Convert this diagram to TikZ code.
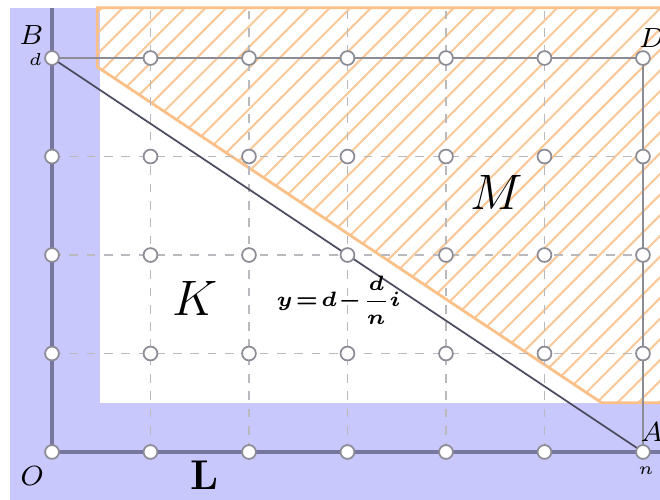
\documentclass[tikz,border=0pt]{standalone}
\usepackage{amsmath}
\usepackage{tikz}
\usepackage{xcolor}
\usetikzlibrary{positioning, calc}
\definecolor{region}{RGB}{200, 200, 252}
\definecolor{hatch}{RGB}{250, 192, 135}
\definecolor{axisc}{RGB}{118, 118, 158}
\definecolor{framec}{RGB}{140, 140, 150}
\definecolor{gridc}{RGB}{185, 185, 190}
\definecolor{linec}{RGB}{75, 75, 95}
\tikzset{
    pt/.style={circle, draw=framec, fill=white, line width=0.5pt, minimum size=4pt, inner sep=0pt},
    gridline/.style={gridc, line width=0.4pt, dash pattern=on 2.5pt off 2.5pt},
    axisline/.style={axisc, line width=0.9pt},
    frameline/.style={framec, line width=0.6pt},
    hatchline/.style={hatch!85, line width=0.6pt},
    lbl/.style={font=\scriptsize, inner sep=1pt},
    big/.style={font=\Large},
    eqn/.style={font=\fontsize{6}{7}\selectfont\boldmath}
}

\begin{document}
\begin{tikzpicture}
        \useasboundingbox (-0.528,-0.487) rectangle (6.173,4.589);
        \clip (-0.528,-0.487) rectangle (6.173,4.589);

        % regions
        \fill[region] (-0.43,-0.7) rectangle (6.6,4.51);
        \fill[white] (0.49,0.5) rectangle (6.6,4.51);
        \begin{scope}
            \clip (0.46,4.51) -- (0.46,3.91) -- (5.58,0.5) -- (6.6,0.5) -- (6.6,4.51) -- cycle;
            \foreach \k in {0,...,50}
                \draw[hatchline] ({-4+0.21*\k},0) -- ++(5,5);
        \end{scope}
        \draw[hatch, line width=0.8pt] (6.6,4.51) -- (0.46,4.51) -- (0.46,3.91) -- (5.58,0.5) -- (6.6,0.5);

        % grid points
        \foreach \i in {0,...,6}
            \foreach \j in {0,...,4}
                \coordinate (c\i\j) at (\i,\j);
        \coordinate (ytop) at (0,4.51);
        \coordinate (xend) at (6.6,0);

        \foreach \i in {1,...,5}
            \draw[gridline] (c\i0) -- (\i,4.51);
        \foreach \j in {1,2,3}
            \draw[gridline] (c0\j) -- (c6\j);
        \draw[frameline] (c04) -- (c64) -- (c60);
        \draw[axisline] (c00) -- (ytop);
        \draw[axisline] (c00) -- (xend);
        \draw[linec, line width=0.5pt] (c04) -- (c60);

        \foreach \i in {0,...,6}
            \foreach \j in {0,...,4}
                \node[pt] (p\i\j) at (c\i\j) {};

        % labels
        \node[lbl, font=\footnotesize] (lblB) at (-0.21,4.23) {$B$};
        \node[lbl, font=\tiny] (lbld) at (-0.17,3.98) {$d$};
        \node[lbl, font=\footnotesize] (lblD) at (6.09,4.2) {$D$};
        \node[lbl, font=\footnotesize] (lblA) at (6.09,0.2) {$A$};
        \node[lbl, font=\tiny] (lbln) at (6.03,-0.19) {$n$};
        \node[lbl, font=\footnotesize] (lblO) at (-0.2,-0.24) {$O$};
        \node[font=\large\bfseries] (lblL) at (1.55,-0.24) {L};
        \node[big] (lblK) at (1.45,1.56) {$K$};
        \node[big] (lblM) at (4.52,2.64) {$M$};
        \node[eqn] (eqline) at (2.91,1.54) {$\medmuskip=1mu\relax\thickmuskip=2mu\relax y=d-\dfrac{d}{n}i$};
    \end{tikzpicture}
\end{document}
